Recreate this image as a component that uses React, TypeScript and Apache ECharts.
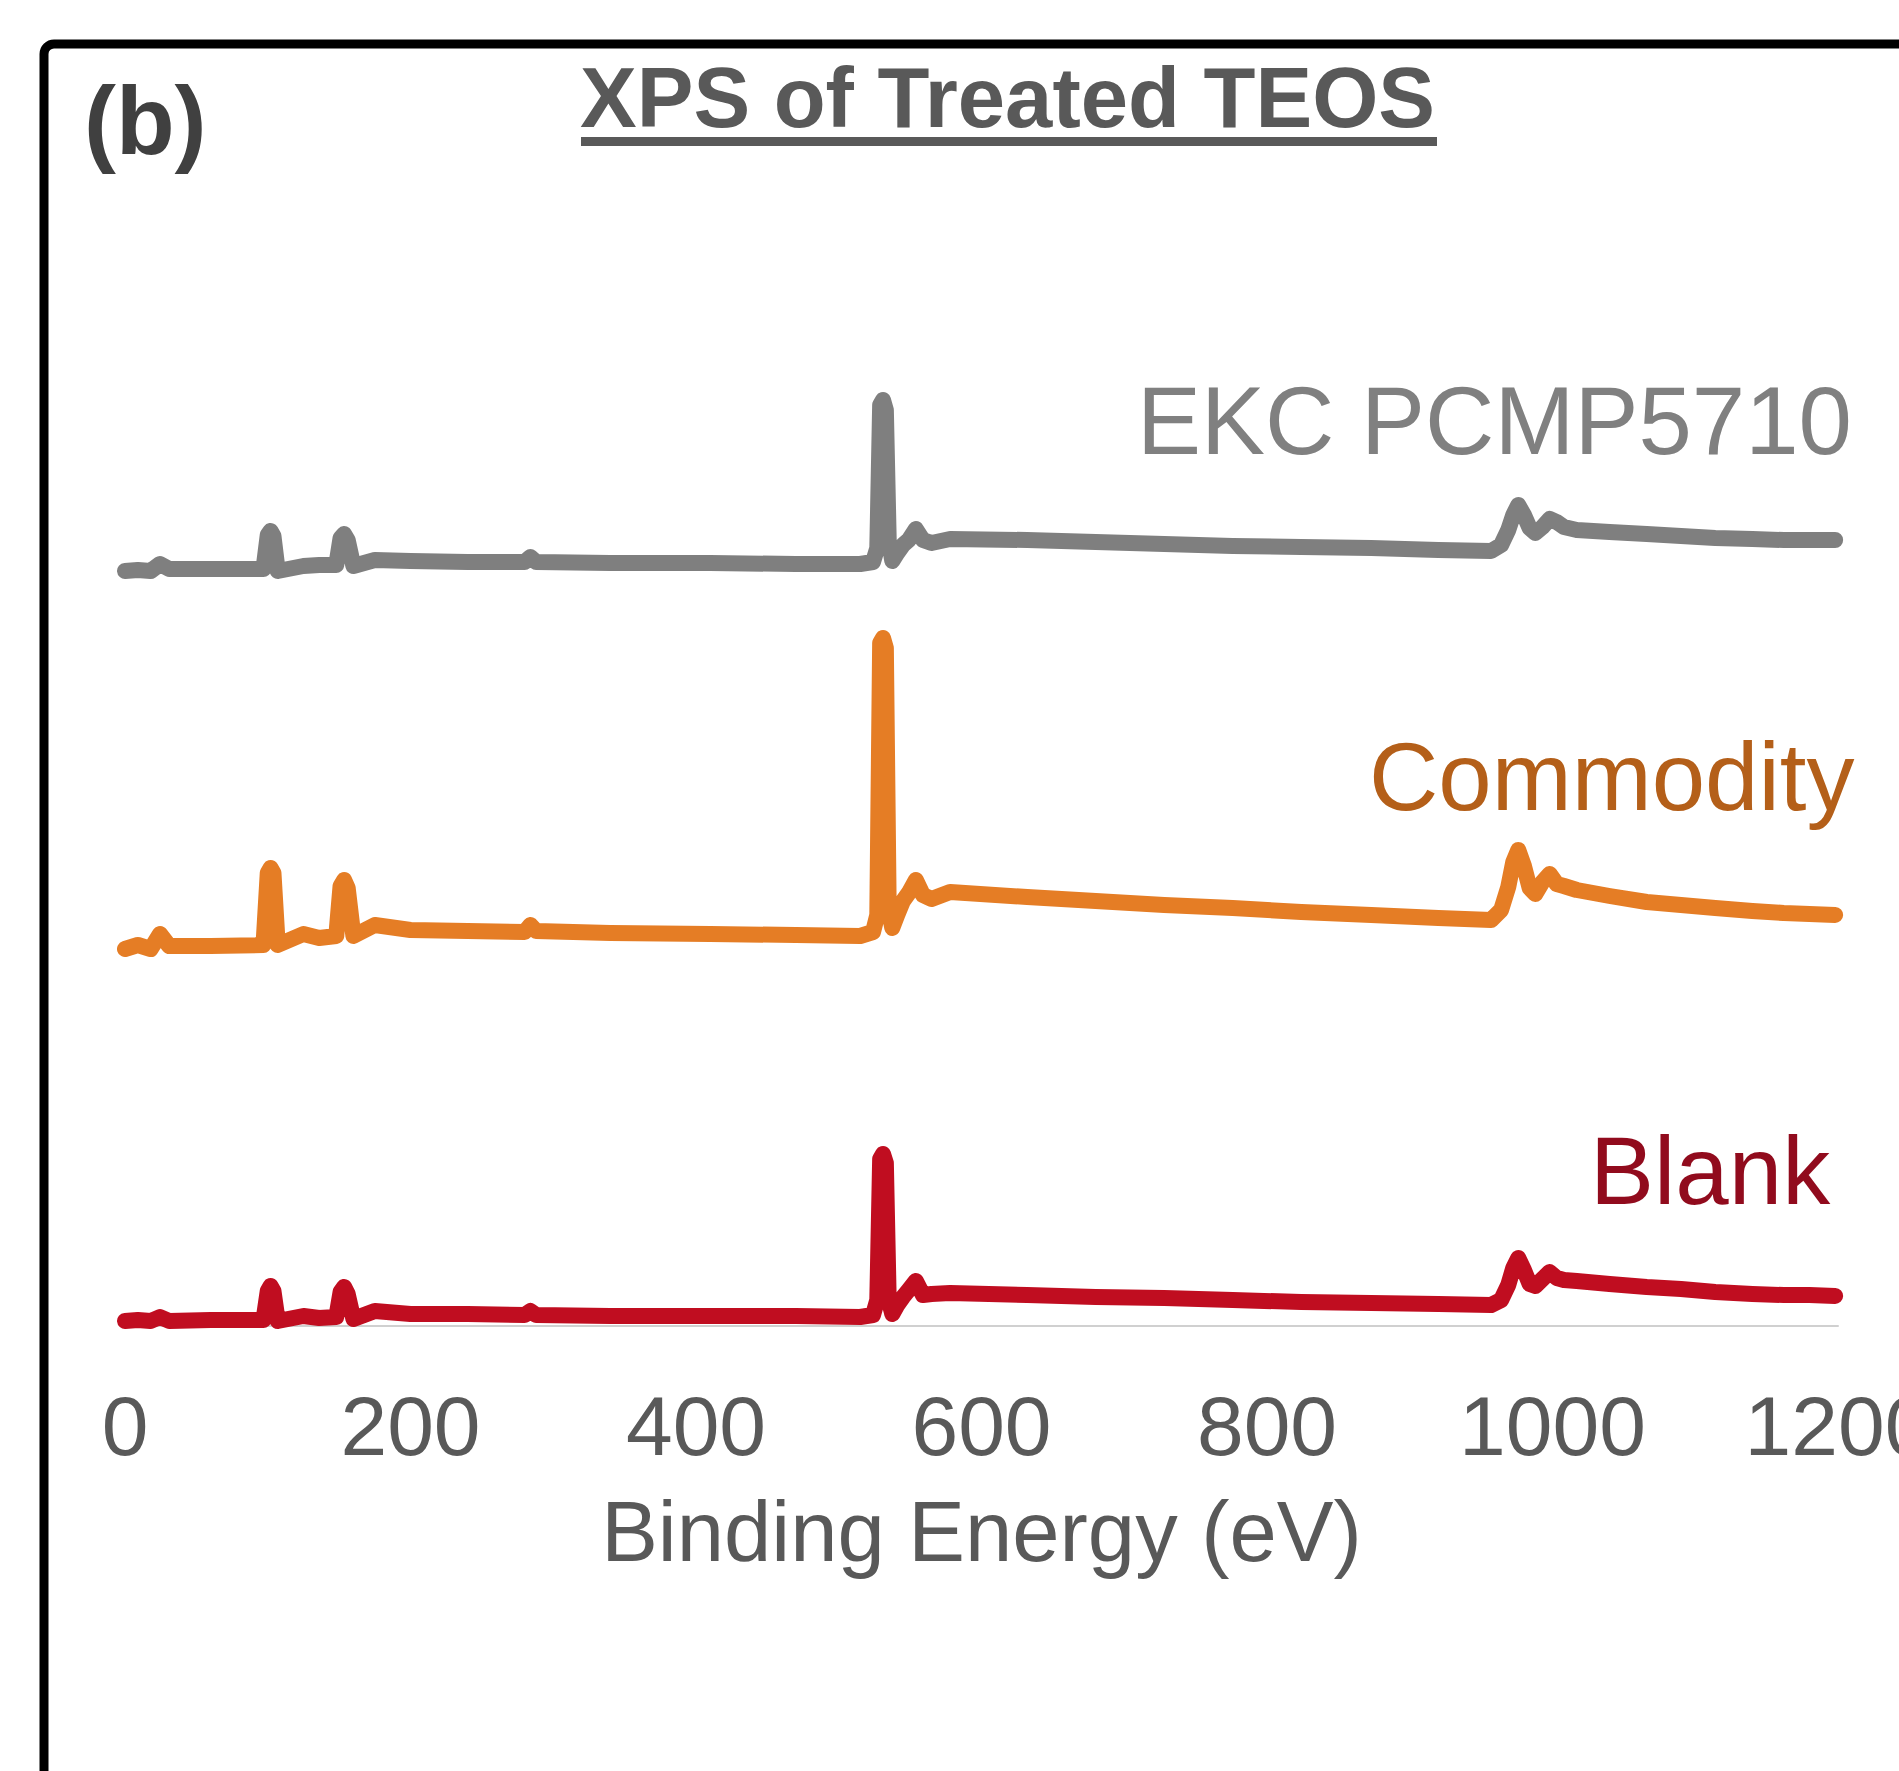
import React, { useEffect, useRef } from "react";
import * as echarts from "echarts";

// Binding energy (eV) sampling points shared by the three survey spectra
const energy = [
  0, 9, 18, 24.5, 31, 60, 97, 100, 102, 104, 107, 125, 136, 148, 151, 153.5, 156, 160, 175, 200,
  240, 280, 284, 288, 340, 410, 470, 515, 524, 527, 529, 531, 533, 535, 537.5, 541, 545, 549, 554,
  559, 565, 578, 632, 680, 728, 776, 824, 873, 920, 957, 964, 969, 972.5, 976, 980, 984, 988, 993,
  998, 1003, 1008, 1017, 1040, 1066, 1090, 1114, 1140, 1162, 1180, 1198,
];

// Offset intensities (a.u.)
const ekcPcmp5710 = [
  755, 756, 755, 762, 757, 757, 757, 791, 795, 790, 755, 760, 761, 761, 788, 792, 786, 760, 766, 765,
  764, 764, 769, 764, 763, 763, 762, 762, 764, 778, 921, 926, 916, 786, 765, 773, 781, 786, 797,
  786, 783, 787, 786, 784, 782, 780, 779, 778, 776, 775, 781, 796, 811, 821, 811, 798, 793, 799,
  807, 804, 799, 796, 794, 792, 790, 788, 787, 786, 786, 786,
];

const commodity = [
  377, 381, 377, 392, 380, 380, 381, 453, 458, 453, 381, 392, 388, 390, 440, 446, 438, 390, 401, 396,
  395, 394, 401, 395, 393, 392, 391, 390, 394, 411, 683, 688, 678, 416, 398, 411, 425, 433, 446,
  431, 427, 434, 429, 425, 421, 418, 414, 411, 408, 406, 416, 439, 464, 476, 460, 438, 432, 444,
  452, 442, 440, 436, 430, 424, 421, 418, 415, 413, 412, 411,
];

const blank = [
  5, 6, 5, 9, 5, 6, 6, 35, 40, 35, 5, 10, 8, 9, 34, 39, 32, 7, 15, 12,
  12, 11, 15, 11, 10, 10, 10, 9, 11, 26, 167, 172, 163, 26, 12, 21, 29, 36, 45,
  31, 32, 33, 31, 29, 28, 26, 24, 23, 22, 21, 26, 41, 58, 68, 56, 42, 40, 47,
  54, 48, 46, 45, 42, 39, 37, 34, 32, 31, 31, 30,
];

const xTicks = { min: 0, max: 1200, interval: 200 };

const seriesNames = ["EKC PCMP5710", "Commodity", "Blank"];
const lineColors = ["#7F7F7F", "#E57D25", "#C00D20"];
const labelColors = ["#808080", "#B45F19", "#910B1D"];

const FONT = "'Liberation Sans', Arial, Helvetica, sans-serif";

export default function App() {
  const ref = useRef<HTMLDivElement>(null);

  useEffect(() => {
    if (!ref.current) return;
    const chart = echarts.init(ref.current, undefined, { renderer: "svg" });
    const values = [ekcPcmp5710, commodity, blank];
    const toPairs = (vals: number[]) => energy.map((e, i) => [e, vals[i]]);

    chart.setOption({
      animation: false,
      backgroundColor: "#FFFFFF",
      title: {
        text: "XPS of Treated TEOS",
        left: 580,
        top: 55,
        padding: 0,
        textStyle: {
          fontSize: 85,
          fontWeight: "bold",
          color: "#595959",
          fontFamily: FONT,
          lineHeight: 85,
        },
      },
      grid: {
        left: 125,
        right: 61,
        top: 326,
        bottom: 445,
        containLabel: false,
        outerBoundsMode: "none",
      },
      xAxis: {
        type: "value",
        min: xTicks.min,
        max: xTicks.max,
        interval: xTicks.interval,
        name: "Binding Energy (eV)",
        nameLocation: "middle",
        nameGap: 163,
        nameTextStyle: { fontSize: 85, color: "#595959", fontFamily: FONT },
        axisLine: { show: true, lineStyle: { color: "#D0D0D0", width: 2 } },
        axisTick: { show: false },
        splitLine: { show: false },
        axisLabel: {
          fontSize: 84,
          color: "#595959",
          fontFamily: FONT,
          margin: 58,
          hideOverlap: false,
          formatter: (v: number) => String(v),
        },
      },
      yAxis: { type: "value", min: 0, max: 1000, show: false, splitLine: { show: false } },
      series: values.map((vals, i) => ({
        name: seriesNames[i],
        type: "line",
        data: toPairs(vals),
        showSymbol: false,
        symbol: "none",
        lineStyle: { width: 16, color: lineColors[i], cap: "round", join: "round" },
        z: 3 - i,
      })),
      graphic: [
        {
          type: "rect",
          shape: { x: 44, y: 44, width: 2100, height: 2100, r: 10 },
          style: { fill: "none", stroke: "#000000", lineWidth: 9 },
          silent: true,
        },
        {
          type: "rect",
          shape: { x: 581, y: 137, width: 856, height: 9 },
          style: { fill: "#595959" },
          silent: true,
        },
        {
          type: "text",
          x: 84,
          y: 120,
          style: {
            text: "(b)",
            fontSize: 96,
            fontWeight: "bold",
            fontFamily: FONT,
            fill: "#404040",
            verticalAlign: "middle",
            align: "left",
          },
        },
        {
          type: "text",
          x: 1137,
          y: 420,
          style: {
            text: seriesNames[0],
            fontSize: 96,
            fontFamily: FONT,
            fill: labelColors[0],
            verticalAlign: "middle",
            align: "left",
          },
        },
        {
          type: "text",
          x: 1369,
          y: 776,
          style: {
            text: seriesNames[1],
            fontSize: 96,
            fontFamily: FONT,
            fill: labelColors[1],
            verticalAlign: "middle",
            align: "left",
          },
        },
        {
          type: "text",
          x: 1590,
          y: 1170,
          style: {
            text: seriesNames[2],
            fontSize: 96,
            fontFamily: FONT,
            fill: labelColors[2],
            verticalAlign: "middle",
            align: "left",
          },
        },
      ],
    });

    return () => chart.dispose();
  }, []);

  return (
    <div
      ref={ref}
      style={{ position: "absolute", left: 0, top: 0, width: 1899, height: 1771, overflow: "hidden" }}
    />
  );
}
